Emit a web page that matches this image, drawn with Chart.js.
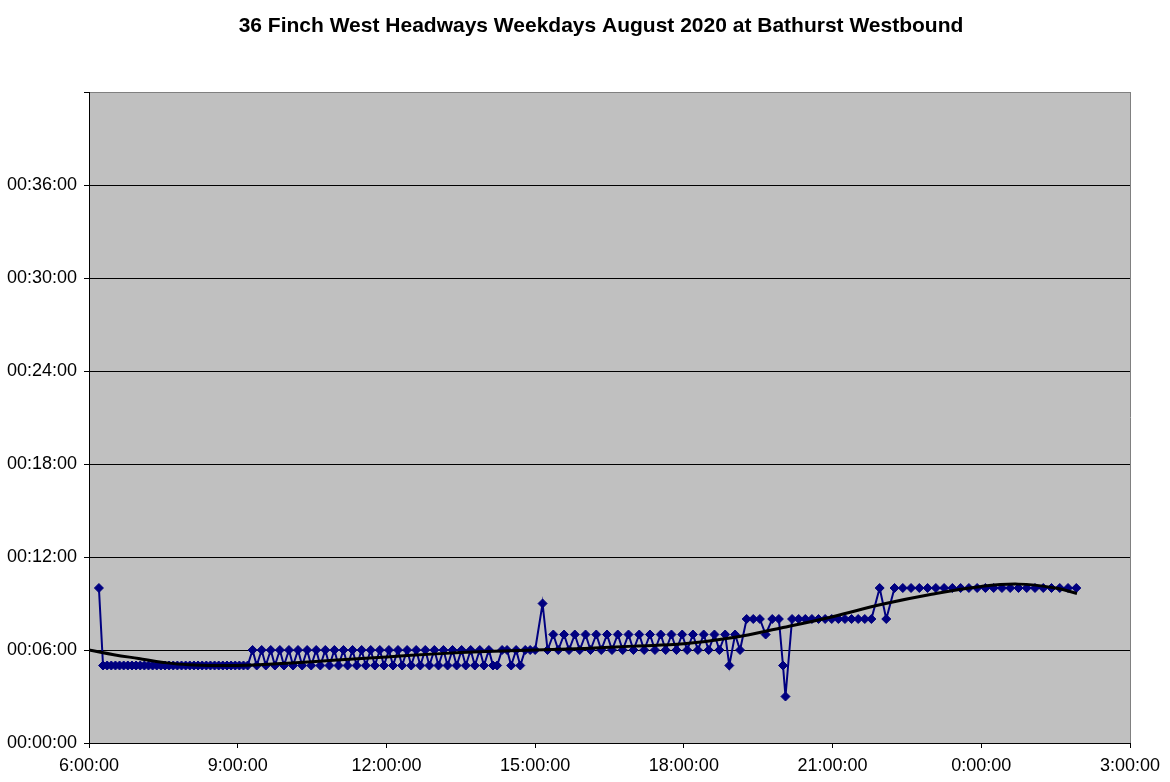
<!DOCTYPE html>
<html>
<head>
<meta charset="utf-8">
<script src="https://cdn.jsdelivr.net/npm/chart.js@4.4.1/dist/chart.umd.min.js"></script>
<style>
    html, body { margin: 0; padding: 0; background: #ffffff; }
    #wrap { width: 1170px; height: 782px; }
</style>
</head>
<body>
<div id="wrap"><canvas id="headwayChart" width="1170" height="782"></canvas></div>
<script>
var chartTitle = '36 Finch West Headways Weekdays August 2020 at Bathurst Westbound';

// trip times (clock) and headway in minutes
var tripTimes = [
    '6:12',
    '6:17', '6:22', '6:27', '6:32', '6:37', '6:42', '6:47', '6:52', '6:57', '7:02', '7:07', '7:12',
    '7:17', '7:22', '7:27', '7:32', '7:37', '7:42', '7:47', '7:52', '7:57', '8:02', '8:07', '8:12',
    '8:17', '8:22', '8:27', '8:32', '8:37', '8:42', '8:47', '8:52', '8:57', '9:02', '9:07', '9:12',
    '9:18', '9:23', '9:29', '9:34', '9:40', '9:45', '9:51', '9:56', '10:02', '10:07', '10:13', '10:18',
    '10:24', '10:29', '10:35', '10:40', '10:46', '10:51', '10:57', '11:02', '11:08', '11:13', '11:19', '11:24',
    '11:30', '11:35', '11:41', '11:46', '11:52', '11:57', '12:03', '12:08', '12:14', '12:19', '12:25', '12:30',
    '12:36', '12:41', '12:47', '12:52', '12:58', '13:03', '13:09', '13:14', '13:20', '13:25', '13:31', '13:36',
    '13:42', '13:47', '13:53', '13:58', '14:04',
    '14:09', '14:14', '14:20', '14:26', '14:31', '14:37', '14:42', '14:48', '14:54', '15:00', '15:09',
    '15:15', '15:22', '15:28', '15:35', '15:41', '15:48', '15:54', '16:01', '16:07', '16:14', '16:20', '16:27',
    '16:33', '16:40', '16:46', '16:53', '16:59', '17:06', '17:12', '17:19', '17:25', '17:32', '17:38', '17:45',
    '17:51', '17:58', '18:04', '18:11', '18:17', '18:24', '18:30', '18:37', '18:43', '18:50', '18:55', '19:02',
    '19:08', '19:16', '19:24', '19:32', '19:39', '19:47', '19:55', '20:00', '20:03',
    '20:11', '20:19', '20:27', '20:35', '20:43', '20:51', '20:59', '21:07', '21:15', '21:23', '21:31', '21:39',
    '21:47', '21:57', '22:05',
    '22:15', '22:25', '22:35', '22:45', '22:55', '23:05', '23:15', '23:25', '23:35', '23:45', '23:55',
    '0:05', '0:15', '0:25', '0:35', '0:45', '0:55', '1:05', '1:15', '1:25', '1:35', '1:45', '1:55'
];
var headways = [
    10,
    5, 5, 5, 5, 5, 5, 5, 5, 5, 5, 5, 5,
    5, 5, 5, 5, 5, 5, 5, 5, 5, 5, 5, 5,
    5, 5, 5, 5, 5, 5, 5, 5, 5, 5, 5, 5,
    6, 5, 6, 5, 6, 5, 6, 5, 6, 5, 6, 5,
    6, 5, 6, 5, 6, 5, 6, 5, 6, 5, 6, 5,
    6, 5, 6, 5, 6, 5, 6, 5, 6, 5, 6, 5,
    6, 5, 6, 5, 6, 5, 6, 5, 6, 5, 6, 5,
    6, 5, 6, 5, 6,
    5, 5, 6, 6, 5, 6, 5, 6, 6, 6, 9,
    6, 7, 6, 7, 6, 7, 6, 7, 6, 7, 6, 7,
    6, 7, 6, 7, 6, 7, 6, 7, 6, 7, 6, 7,
    6, 7, 6, 7, 6, 7, 6, 7, 6, 7, 5, 7,
    6, 8, 8, 8, 7, 8, 8, 5, 3,
    8, 8, 8, 8, 8, 8, 8, 8, 8, 8, 8, 8,
    8, 10, 8,
    10, 10, 10, 10, 10, 10, 10, 10, 10, 10, 10,
    10, 10, 10, 10, 10, 10, 10, 10, 10, 10, 10, 10
];

// trend line (hours since midnight, minutes)
var trendHours = [6, 6.5, 7, 7.5, 8, 9, 10, 11, 12, 13, 14, 15, 16, 17, 18, 19, 20, 21, 22, 23, 24, 24.75, 25.5, 25.93];
var trendMinutes = [6.0, 5.7, 5.45, 5.2, 5.05, 5.0, 5.15, 5.35, 5.55, 5.75, 5.9, 6.0, 6.1, 6.25, 6.4, 6.8, 7.45, 8.15, 8.95, 9.6, 10.1, 10.25, 10.0, 9.65];

var xTicks = [6, 9, 12, 15, 18, 21, 24, 27];
var yTicks = [0, 6, 12, 18, 24, 30, 36, 42];

function toHours(s) {
    var p = s.split(':');
    var h = parseInt(p[0], 10) + parseInt(p[1], 10) / 60;
    if (h < 6) h += 24;
    return h;
}

var points = tripTimes.map(function (t, i) { return { x: toHours(t), y: headways[i] }; });
var trend = trendHours.map(function (h, i) { return { x: h, y: trendMinutes[i] }; });

var plotBackground = {
    id: 'plotBackground',
    beforeDraw: function (chart) {
        var a = chart.chartArea, c = chart.ctx;
        c.save();
        c.fillStyle = '#c0c0c0';
        c.fillRect(a.left, a.top, a.right - a.left, a.bottom - a.top);
        c.restore();
    },
    afterDraw: function (chart) {
        var c = chart.ctx;
        c.save();
        c.font = 'bold 21px "Liberation Sans", Arial, sans-serif';
        c.fillStyle = '#000';
        c.textAlign = 'center';
        c.textBaseline = 'middle';
        c.fillText(chartTitle, 601, 26);
        c.restore();
    }
};

var ctx = document.getElementById('headwayChart').getContext('2d');
var headway_chart = new Chart(ctx, {
    type: 'line',
    data: {
        datasets: [{
            label: 'Trend',
            data: trend,
            borderColor: '#000000',
            borderWidth: 3,
            pointRadius: 0,
            tension: 0.4,
            order: 0
        }, {
            label: 'Headway',
            data: points,
            borderColor: '#000080',
            backgroundColor: '#000080',
            borderWidth: 2,
            pointStyle: 'rectRot',
            pointRadius: 4.5,
            pointBorderWidth: 1,
            tension: 0,
            order: 1
        }]
    },
    options: {
        responsive: false,
        animation: false,
        layout: { padding: { top: 92, right: 40, left: 0, bottom: 0 } },
        plugins: {
            legend: { display: false },
            tooltip: { enabled: false },
            title: { display: false }
        },
        scales: {
            x: {
                type: 'linear',
                min: 6,
                max: 27,
                afterBuildTicks: function (s) { s.ticks = xTicks.map(function (v) { return { value: v }; }); },
                afterFit: function (s) { s.height = 39; },
                ticks: {
                    color: '#000',
                    padding: 7,
                    maxRotation: 0,
                    font: { family: '"Liberation Sans", Arial, sans-serif', size: 18 },
                    callback: function (v) { return (v % 24) + ':00:00'; }
                },
                grid: {
                    color: function (c) { return c.tick && c.tick.value === 27 ? '#808080' : 'rgba(0,0,0,0)'; },
                    tickColor: '#000',
                    tickLength: 5
                },
                border: { color: '#000', width: 1 }
            },
            y: {
                min: 0,
                max: 42,
                afterBuildTicks: function (s) { s.ticks = yTicks.map(function (v) { return { value: v }; }); },
                afterFit: function (s) { s.width = 89; },
                ticks: {
                    color: '#000',
                    padding: 7,
                    font: { family: '"Liberation Sans", Arial, sans-serif', size: 18 },
                    callback: function (v) {
                        if (v === 42) return '';
                        return '00:' + (v < 10 ? '0' + v : v) + ':00';
                    }
                },
                grid: {
                    color: function (c) { return c.tick && c.tick.value === 42 ? '#808080' : '#000'; },
                    tickColor: '#000',
                    tickLength: 5
                },
                border: { color: '#000', width: 1 }
            }
        }
    },
    plugins: [plotBackground]
});
</script>
</body>
</html>
